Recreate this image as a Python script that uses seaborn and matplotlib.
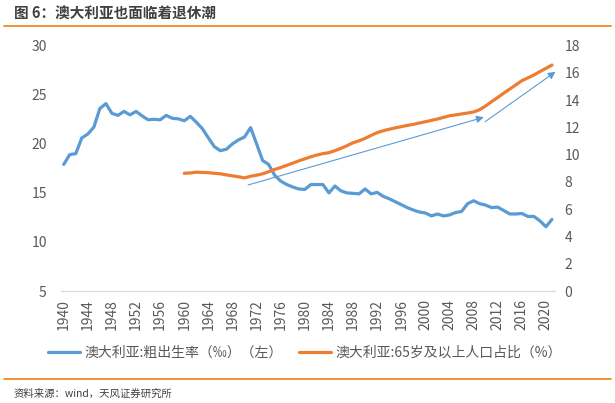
import matplotlib
matplotlib.use("Agg")
import matplotlib.pyplot as plt
from matplotlib.lines import Line2D
import seaborn as sns
import pandas as pd

# Data

years = list(range(1940, 2022))

# Crude birth rate (per mille), left axis
birth_rate = [
    17.9, 18.9, 19.0, 20.6, 21.0, 21.7, 23.6, 24.1, 23.1, 22.9,
    23.3, 22.95, 23.3, 22.85, 22.45, 22.5, 22.45, 22.9, 22.6, 22.55,
    22.35, 22.8, 22.2, 21.55, 20.6, 19.7, 19.3, 19.45, 20.0, 20.4,
    20.7, 21.65, 20.0, 18.3, 17.9, 16.8, 16.2, 15.85, 15.6, 15.4,
    15.35, 15.85, 15.85, 15.85, 15.0, 15.7, 15.2, 15.0, 14.95, 14.9,
    15.4, 14.9, 15.05, 14.65, 14.4, 14.1, 13.8, 13.5, 13.25, 13.05,
    12.95, 12.65, 12.85, 12.65, 12.75, 13.0, 13.1, 13.9, 14.2, 13.9,
    13.75, 13.5, 13.55, 13.2, 12.85, 12.85, 12.9, 12.6, 12.6, 12.15,
    11.55, 12.3,
]

# Share of population aged 65+ (%), right axis, from 1960
aged_years = list(range(1960, 2022))
aged_share = [
    8.64, 8.66, 8.72, 8.70, 8.68, 8.64, 8.60, 8.52, 8.45, 8.38,
    8.30, 8.42, 8.50, 8.60, 8.75, 8.92, 9.06, 9.22, 9.38, 9.55,
    9.70, 9.85, 9.98, 10.08, 10.15, 10.30, 10.47, 10.66, 10.88, 11.02,
    11.20, 11.42, 11.62, 11.76, 11.87, 11.97, 12.06, 12.15, 12.23, 12.33,
    12.42, 12.52, 12.62, 12.74, 12.86, 12.92, 12.99, 13.06, 13.14, 13.30,
    13.58, 13.90, 14.20, 14.52, 14.82, 15.12, 15.43, 15.64, 15.85, 16.10,
    16.34, 16.58,
]

# Trend arrows drawn on the right axis: (start year, start value, end year, end value)
trend_arrows = [
    (1970.6, 7.78, 2009.7, 12.75),
    (2009.9, 12.42, 2021.6, 16.09),
]

label_birth = "澳大利亚:粗出生率（‰）（左）"
label_aged = "澳大利亚:65岁及以上人口占比（%）"
title = "图 6：澳大利亚也面临着退休潮"
source = "资料来源：wind，天风证券研究所"

BLUE = "#5B9BD5"
ORANGE = "#ED7D31"
GREY = "#595959"
AXIS_GREY = "#D9D9D9"

sns.set_theme(style="white")
plt.rcParams["font.family"] = ["Noto Sans CJK SC", "DejaVu Sans"]

df_birth = pd.DataFrame({"year": years, "rate": birth_rate})
df_aged = pd.DataFrame({"year": aged_years, "share": aged_share})

fig = plt.figure(figsize=(6.15, 4.03), dpi=100)
ax = fig.add_axes([0.0987, 0.2779, 0.8037, 0.6087])
ax2 = ax.twinx()

sns.lineplot(data=df_birth, x="year", y="rate", ax=ax, color=BLUE,
             linewidth=2.3, label=label_birth)
sns.lineplot(data=df_aged, x="year", y="share", ax=ax2, color=ORANGE,
             linewidth=2.3, label=label_aged)

# thin trend arrows (the last one pokes just past the axis edge)
for x0, y0, x1, y1 in trend_arrows:
    ax2.annotate("", xy=(x1, y1), xytext=(x0, y0), annotation_clip=False,
                 arrowprops=dict(arrowstyle="-|>", color=BLUE, lw=0.8,
                                 mutation_scale=11, shrinkA=0, shrinkB=0))

# Axes ranges and ticks
ax.set_xlim(1939.5, 2021.5)
ax.set_ylim(5, 30)
ax.set_yticks(range(5, 31, 5))
ax2.set_ylim(0, 18)
ax2.set_yticks(range(0, 19, 2))

# tick marks between categories, labels on categories
ax.set_xticks([y - 0.5 for y in range(1940, 2021, 4)])
ax.set_xticklabels([])
ax.set_xticks(list(range(1940, 2021, 4)), minor=True)
ax.set_xticklabels([str(y) for y in range(1940, 2021, 4)], minor=True,
                   rotation=90, fontsize=10, color=GREY)
ax.tick_params(axis="x", which="major", length=4, color=AXIS_GREY, width=0.8)
ax.tick_params(axis="x", which="minor", length=0, pad=6)

ax.tick_params(axis="y", length=0, pad=10, labelsize=10, labelcolor=GREY)
ax2.tick_params(axis="y", length=0, pad=7, labelsize=10, labelcolor=GREY)

for a in (ax, ax2):
    for side in ("top", "left", "right"):
        a.spines[side].set_visible(False)
    a.spines["bottom"].set_color(AXIS_GREY)
    a.spines["bottom"].set_linewidth(0.8)
    a.set_xlabel("")
    a.set_ylabel("")
    a.grid(False)

# Legend below the plot
handles = ax.get_legend().legend_handles + ax2.get_legend().legend_handles
ax.get_legend().remove()
ax2.get_legend().remove()
fig.legend(handles, [label_birth, label_aged], loc="center",
           bbox_to_anchor=(0.4956, 0.124), ncol=2, frameon=False,
           fontsize=10, labelcolor=GREY, handlelength=2.3,
           handletextpad=0.3, columnspacing=1.2)

# Title, frame lines, source
fig.text(14 / 615, 1 - 14 / 403, title, fontsize=10.5, fontweight="bold",
         color="#404040", va="center", ha="left")
fig.add_artist(Line2D([4 / 615, 611 / 615], [1 - 25.7 / 403] * 2,
                      color="#F08A24", linewidth=1.3))
fig.add_artist(Line2D([4 / 615, 611 / 615], [1 - 378.5 / 403] * 2,
                      color="#F08A24", linewidth=1.3))
fig.text(14 / 615, 1 - 394 / 403, source, fontsize=7.5, color="#404040",
         va="center", ha="left")

fig.savefig("out.png", dpi=100)
